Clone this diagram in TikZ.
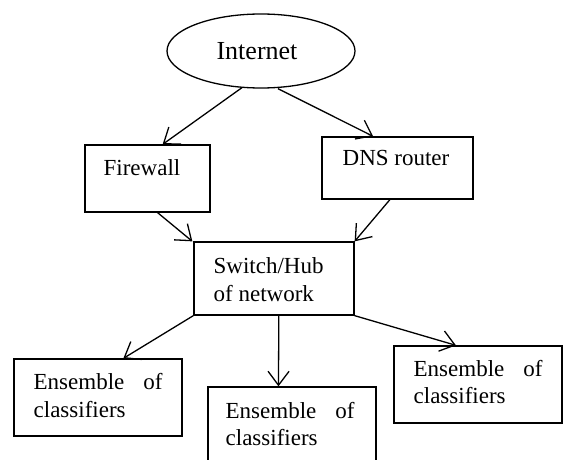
\documentclass[tikz,border=0pt]{standalone}
\usepackage{fontspec}
\setmainfont{Liberation Serif}
\usetikzlibrary{arrows.meta,calc,shapes.geometric}
\begin{document}
\begin{tikzpicture}[x=0.5pt,y=-0.5pt,
  line width=0.65pt,
  box/.style={draw, rectangle, inner sep=0pt, line width=0.65pt},
  lbl/.style={anchor=base west, inner sep=0pt, font=\fontsize{11.5}{14}\selectfont},
  link/.style={-{Straight Barb[length=7pt,width=10.5pt,line width=0.65pt]}, line width=0.65pt}]
\useasboundingbox (0,0) rectangle (563,460);
\clip (0,0) rectangle (563,460);

% shapes
\node[draw, ellipse, inner sep=0pt, minimum width=94pt, minimum height=37pt] (inet) at (261,51) {};
\node[box, minimum width=62.5pt, minimum height=33.5pt] (fw)  at (147.5,178.5) {};
\node[box, minimum width=75.5pt, minimum height=31pt]   (dns) at (397.5,168) {};
\node[box, minimum width=80pt,   minimum height=36.5pt] (sw)  at (274,278.5) {};
\node[box, minimum width=84pt,   minimum height=38.5pt] (ensL) at (98,397.5) {};
\node[box, minimum width=84pt,   minimum height=46.5pt] (ensM) at (292,433.5) {};
\node[box, minimum width=84pt,   minimum height=38.5pt] (ensR) at (478,384.5) {};

% labels
\node[anchor=base, inner sep=0pt, font=\fontsize{13}{15}\selectfont] (tinet) at (257,60) {Internet};
\node[lbl] (tfw)  at (103,176) {Firewall};
\node[lbl] (tdns) at (342,166) {DNS router};
\node[lbl] (tsw1) at (213,273) {Switch/Hub};
\node[lbl] (tsw2) at (213,301) {of network};
\node[lbl] (tL1) at (33,389) {\makebox[64.5pt][s]{Ensemble\hfill of}};
\node[lbl] (tL2) at (33,417) {classifiers};
\node[lbl] (tM1) at (225,418) {\makebox[64.5pt][s]{Ensemble\hfill of}};
\node[lbl] (tM2) at (225,445) {classifiers};
\node[lbl] (tR1) at (413,376) {\makebox[64.5pt][s]{Ensemble\hfill of}};
\node[lbl] (tR2) at (413,403) {classifiers};

% connectors
\draw[link] ($(inet.south)+(-19,-1)$) -- ($(fw.north west)!0.62!(fw.north east)$);
\draw[link] ($(inet.south)+(17,0)$) -- ($(dns.north west)!0.34!(dns.north east)$);
\draw[link] ($(fw.south west)!0.58!(fw.south east)$) -- ($(sw.north west)+(-1,0)$);
\draw[link] ($(dns.south west)!0.45!(dns.south east)$) -- (sw.north east);
\draw[link] (sw.south west) -- ($(ensL.north west)!0.65!(ensL.north east)$);
\draw[link] ($(sw.south west)!0.53!(sw.south east)$) -- ($(ensM.north west)!0.42!(ensM.north east)$);
\draw[link] (sw.south east) -- ($(ensR.north west)!0.37!(ensR.north east)$);
\end{tikzpicture}
\end{document}
